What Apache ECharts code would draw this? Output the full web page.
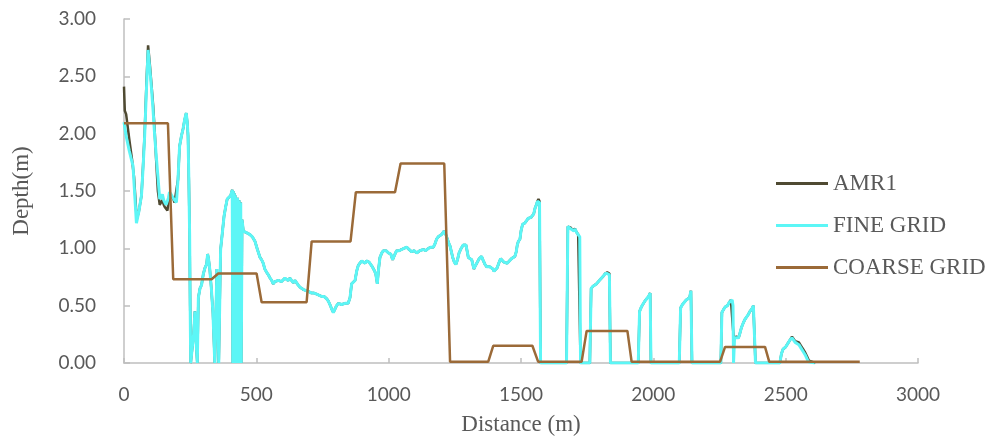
<!DOCTYPE html>
<html>
<head>
<meta charset="utf-8">
<script src="https://cdn.jsdelivr.net/npm/echarts@6/dist/echarts.min.js"></script>
<style>html,body{margin:0;padding:0;background:#fff}#c{width:997px;height:442px}</style>
</head>
<body>
<div id="c"></div>
<script>
const seriesNames = ['AMR1', 'FINE GRID', 'COARSE GRID'];
const xTicks = [0, 500, 1000, 1500, 2000, 2500, 3000];
const yTicks = [0, 0.5, 1, 1.5, 2, 2.5, 3];

const fineDistance = [0,8,20,34,41,47,56,66,72,78,85,91,97,103,110,116,122,128,135,140,145,150,154,159,164,168,172,178,185,191,198,204,210,217,223,229,235,239,242,245,248,250,252,258,263,268,272,277,281,287,293,300,306,312,316,320,324,330,336,343,347,351,355,358,362,365,370,378,384,390,396,403,409,411,413,415,417,419,421,423,426,429,432,435,438,441,443,446,451,460,468,476,485,495,504,514,520,526,532,539,545,552,558,564,570,577,583,589,595,602,608,614,620,627,633,640,646,652,658,665,672,678,684,690,700,709,718,728,738,747,756,766,772,778,785,791,797,803,810,816,822,829,835,841,847,854,860,866,873,879,885,891,898,904,911,916,920,926,932,938,945,951,957,962,967,974,980,990,999,1008,1015,1022,1030,1040,1049,1058,1068,1077,1087,1096,1106,1112,1118,1125,1131,1140,1150,1160,1169,1175,1181,1187,1193,1200,1209,1216,1222,1228,1232,1237,1242,1248,1254,1260,1266,1274,1282,1292,1297,1301,1308,1314,1318,1322,1328,1335,1342,1351,1358,1364,1370,1376,1382,1389,1394,1398,1404,1410,1416,1423,1429,1435,1441,1448,1456,1464,1470,1477,1482,1486,1490,1496,1500,1506,1514,1521,1526,1531,1538,1544,1548,1553,1558,1562,1566,1570,1574,1620,1672,1677,1682,1688,1694,1700,1704,1710,1716,1722,1725,1760,1765,1772,1778,1785,1792,1800,1806,1812,1818,1826,1834,1838,1943,1948,1955,1962,1968,1975,1982,1988,1991,2098,2103,2110,2117,2124,2131,2137,2142,2146,2255,2259,2266,2272,2280,2287,2293,2298,2301,2303,2307,2314,2322,2326,2333,2340,2346,2352,2358,2365,2372,2378,2383,2386,2478,2484,2490,2500,2508,2516,2524,2530,2536,2542,2550,2558,2566,2574,2580,2586,2610];
const fineDepth = [2.10,1.98,1.85,1.72,1.45,1.22,1.32,1.46,1.70,1.98,2.40,2.73,2.58,2.42,2.20,1.98,1.80,1.63,1.43,1.45,1.47,1.42,1.40,1.38,1.37,1.44,1.49,1.47,1.46,1.42,1.40,1.60,1.89,1.98,2.04,2.12,2.18,2.10,1.98,1.60,1.11,0.50,0.00,0.00,0.25,0.45,0.20,0.00,0.57,0.65,0.68,0.78,0.83,0.86,0.95,0.90,0.82,0.65,0.44,0.00,0.40,0.82,0.40,0.00,0.00,0.99,1.10,1.28,1.36,1.43,1.44,1.46,1.51,0.00,1.50,0.00,1.48,0.00,1.46,1.45,0.00,1.44,0.00,1.42,0.00,1.40,0.00,1.25,1.15,1.14,1.13,1.12,1.10,1.06,0.99,0.92,0.90,0.87,0.82,0.79,0.77,0.74,0.72,0.69,0.71,0.70,0.72,0.73,0.71,0.72,0.74,0.73,0.72,0.74,0.72,0.70,0.72,0.71,0.68,0.66,0.67,0.64,0.65,0.63,0.62,0.61,0.61,0.60,0.59,0.58,0.58,0.56,0.54,0.51,0.47,0.44,0.47,0.50,0.52,0.53,0.51,0.50,0.52,0.53,0.52,0.57,0.69,0.70,0.72,0.80,0.85,0.87,0.89,0.88,0.87,0.89,0.90,0.88,0.86,0.84,0.81,0.78,0.69,0.82,0.92,0.96,0.98,0.98,0.96,0.95,0.90,0.94,0.98,0.98,0.99,1.00,1.01,0.99,0.97,0.98,0.96,0.97,0.98,0.99,0.99,0.98,1.00,1.01,1.01,1.04,1.08,1.10,1.11,1.12,1.15,1.12,1.08,1.04,1.02,0.97,0.92,0.88,0.86,0.90,0.96,1.00,1.03,1.03,0.97,0.92,0.91,0.90,0.86,0.82,0.85,0.88,0.91,0.93,0.89,0.86,0.84,0.83,0.84,0.83,0.82,0.80,0.81,0.83,0.87,0.91,0.90,0.88,0.89,0.87,0.89,0.91,0.92,0.93,0.97,1.03,1.06,1.08,1.15,1.21,1.22,1.24,1.26,1.27,1.27,1.27,1.30,1.35,1.38,1.41,1.42,1.40,0.00,0.00,0.00,1.19,1.19,1.17,1.16,1.15,1.17,1.14,1.12,1.10,0.00,0.00,0.65,0.67,0.66,0.69,0.70,0.73,0.74,0.76,0.78,0.78,0.77,0.00,0.00,0.45,0.49,0.50,0.54,0.56,0.58,0.61,0.00,0.00,0.48,0.51,0.52,0.55,0.56,0.57,0.63,0.00,0.00,0.44,0.47,0.49,0.50,0.53,0.54,0.55,0.50,0.00,0.22,0.23,0.22,0.25,0.31,0.35,0.38,0.40,0.42,0.45,0.47,0.50,0.49,0.00,0.00,0.08,0.12,0.14,0.17,0.20,0.22,0.21,0.18,0.19,0.16,0.13,0.10,0.07,0.04,0.01,0.00];

const amrDistance = [0,3,8,20,30,38,44,48,56,66,72,78,85,91,97,103,110,116,122,128,135,140,145,150,154,159,164,168,172,178,185,191,198,204,210,217,223,229,235,239,242,245,248,250,252,258,263,268,272,277,281,287,293,300,306,312,316,320,324,330,336,343,347,351,355,358,362,365,370,378,384,390,396,403,409,411,413,415,417,419,421,423,426,429,432,435,438,441,443,446,451,460,468,476,485,495,504,514,520,526,532,539,545,552,558,564,570,577,583,589,595,602,608,614,620,627,633,640,646,652,658,665,672,678,684,690,700,709,718,728,738,747,756,766,772,778,785,791,797,803,810,816,822,829,835,841,847,854,860,866,873,879,885,891,898,904,911,916,920,926,932,938,945,951,957,962,967,974,980,990,999,1008,1015,1022,1030,1040,1049,1058,1068,1077,1087,1096,1106,1112,1118,1125,1131,1140,1150,1160,1169,1175,1181,1187,1193,1200,1209,1216,1222,1228,1232,1237,1242,1248,1254,1260,1266,1274,1282,1292,1297,1301,1308,1314,1318,1322,1328,1335,1342,1351,1358,1364,1370,1376,1382,1389,1394,1398,1404,1410,1416,1423,1429,1435,1441,1448,1456,1464,1470,1477,1482,1486,1490,1496,1500,1506,1514,1521,1526,1531,1538,1544,1548,1553,1558,1562,1566,1570,1574,1620,1672,1677,1682,1688,1694,1700,1704,1710,1716,1722,1725,1760,1765,1772,1778,1785,1792,1800,1806,1812,1818,1826,1834,1838,1943,1948,1955,1962,1968,1975,1982,1988,1991,2098,2103,2110,2117,2124,2131,2137,2142,2146,2255,2259,2266,2272,2280,2287,2293,2298,2301,2304,2314,2322,2326,2333,2340,2346,2352,2358,2365,2372,2378,2383,2386,2478,2484,2490,2500,2508,2516,2524,2530,2536,2542,2550,2558,2566,2574,2580,2588,2612];
const amrDepth = [2.41,2.20,2.17,1.95,1.78,1.62,1.40,1.25,1.32,1.46,1.72,2.00,2.45,2.77,2.62,2.45,2.25,2.02,1.75,1.50,1.38,1.40,1.42,1.38,1.36,1.35,1.33,1.40,1.46,1.45,1.44,1.40,1.39,1.60,1.89,1.98,2.04,2.12,2.18,2.10,1.98,1.60,1.11,0.50,0.00,0.00,0.25,0.45,0.20,0.00,0.57,0.65,0.68,0.78,0.83,0.86,0.95,0.90,0.82,0.65,0.44,0.00,0.40,0.82,0.40,0.00,0.00,0.99,1.10,1.28,1.36,1.43,1.44,1.46,1.51,0.00,1.50,0.00,1.48,0.00,1.46,1.45,0.00,1.44,0.00,1.42,0.00,1.40,0.00,1.25,1.15,1.14,1.13,1.12,1.10,1.06,0.99,0.92,0.90,0.87,0.82,0.79,0.77,0.74,0.72,0.69,0.71,0.70,0.72,0.73,0.71,0.72,0.74,0.73,0.72,0.74,0.72,0.70,0.72,0.71,0.68,0.66,0.67,0.64,0.65,0.63,0.62,0.61,0.61,0.60,0.59,0.58,0.58,0.56,0.54,0.51,0.47,0.44,0.47,0.50,0.52,0.53,0.51,0.50,0.52,0.53,0.52,0.57,0.69,0.70,0.72,0.80,0.85,0.87,0.89,0.88,0.87,0.89,0.90,0.88,0.86,0.84,0.81,0.78,0.69,0.82,0.92,0.96,0.98,0.98,0.96,0.95,0.90,0.94,0.98,0.98,0.99,1.00,1.01,0.99,0.97,0.98,0.96,0.97,0.98,0.99,0.99,0.98,1.00,1.01,1.01,1.04,1.08,1.10,1.11,1.12,1.15,1.12,1.08,1.04,1.02,0.97,0.92,0.88,0.86,0.90,0.96,1.00,1.03,1.03,0.97,0.92,0.91,0.90,0.86,0.82,0.85,0.88,0.91,0.93,0.89,0.86,0.84,0.83,0.84,0.83,0.82,0.80,0.81,0.83,0.87,0.91,0.90,0.88,0.89,0.87,0.89,0.91,0.92,0.93,0.97,1.03,1.06,1.08,1.15,1.21,1.22,1.24,1.26,1.27,1.27,1.27,1.30,1.35,1.38,1.41,1.43,1.41,0.00,0.00,0.00,1.19,1.20,1.18,1.16,1.15,1.17,1.14,1.12,1.11,0.00,0.00,0.65,0.67,0.66,0.69,0.70,0.73,0.74,0.76,0.78,0.79,0.78,0.00,0.00,0.45,0.49,0.50,0.54,0.56,0.58,0.61,0.00,0.00,0.48,0.51,0.52,0.55,0.56,0.57,0.63,0.00,0.00,0.44,0.47,0.49,0.50,0.53,0.55,0.56,0.30,0.22,0.23,0.22,0.25,0.31,0.35,0.38,0.40,0.42,0.45,0.47,0.50,0.50,0.00,0.00,0.08,0.12,0.14,0.17,0.20,0.23,0.22,0.19,0.20,0.18,0.15,0.12,0.09,0.06,0.02,0.00];

const coarseDistance = [0,166,186,331,356,501,520,690,709,856,876,1024,1045,1210,1232,1376,1395,1543,1565,1729,1748,1902,1918,2252,2271,2422,2438,2780];
const coarseDepth = [2.09,2.09,0.73,0.73,0.78,0.78,0.53,0.53,1.06,1.06,1.49,1.49,1.74,1.74,0.01,0.01,0.15,0.15,0.01,0.01,0.28,0.28,0.01,0.01,0.14,0.14,0.01,0.01];

const pairs = (xs, ys) => xs.map((x, i) => [x, ys[i]]);
const axisGray = '#bfbfbf';
const labelGray = '#595959';

const chart = echarts.init(document.getElementById('c'), null, {renderer: 'canvas'});
chart.setOption({
  animation: false,
  backgroundColor: '#ffffff',
  grid: {left: 124, right: 79, top: 19, bottom: 79, containLabel: false},
  legend: {
    data: seriesNames,
    orient: 'vertical',
    left: 771,
    top: 167,
    icon: 'rect',
    itemWidth: 52,
    itemHeight: 3,
    itemGap: 19,
    textStyle: {fontFamily: 'Liberation Serif', fontSize: 23, color: labelGray, lineHeight: 23}
  },
  xAxis: {
    type: 'value',
    min: xTicks[0], max: xTicks[xTicks.length - 1], interval: xTicks[1] - xTicks[0],
    name: 'Distance (m)', nameLocation: 'middle', nameGap: 50,
    nameTextStyle: {fontFamily: 'Liberation Serif', fontSize: 23, color: labelGray},
    axisLine: {show: true, lineStyle: {color: axisGray, width: 1.5}},
    axisTick: {show: true, inside: true, length: 5, lineStyle: {color: axisGray, width: 1.5}},
    splitLine: {show: false},
    axisLabel: {fontFamily: 'Lato', fontSize: 19, color: labelGray, margin: 22,
      formatter: v => String(v)}
  },
  yAxis: {
    type: 'value',
    min: yTicks[0], max: yTicks[yTicks.length - 1], interval: yTicks[1] - yTicks[0],
    name: 'Depth(m)', nameLocation: 'middle', nameGap: 91, nameRotate: 90,
    nameTextStyle: {fontFamily: 'Liberation Serif', fontSize: 23, color: labelGray},
    axisLine: {show: true, lineStyle: {color: axisGray, width: 1.5}},
    axisTick: {show: true, inside: true, length: 6, lineStyle: {color: axisGray, width: 1.5}},
    splitLine: {show: false},
    axisLabel: {fontFamily: 'Lato', fontSize: 19, color: labelGray, margin: 28,
      formatter: v => v.toFixed(2)}
  },
  series: [
    {name: seriesNames[0], type: 'line', data: pairs(amrDistance, amrDepth), symbol: 'none',
     lineStyle: {color: '#4f4a32', width: 2.5}, itemStyle: {color: '#4f4a32'}},
    {name: seriesNames[1], type: 'line', data: pairs(fineDistance, fineDepth), symbol: 'none',
     lineStyle: {color: '#5cf6f6', width: 3}, itemStyle: {color: '#5cf6f6'}},
    {name: seriesNames[2], type: 'line', data: pairs(coarseDistance, coarseDepth), symbol: 'none',
     lineStyle: {color: '#9b6a38', width: 2.5}, itemStyle: {color: '#9b6a38'}}
  ]
});
</script>
</body>
</html>
